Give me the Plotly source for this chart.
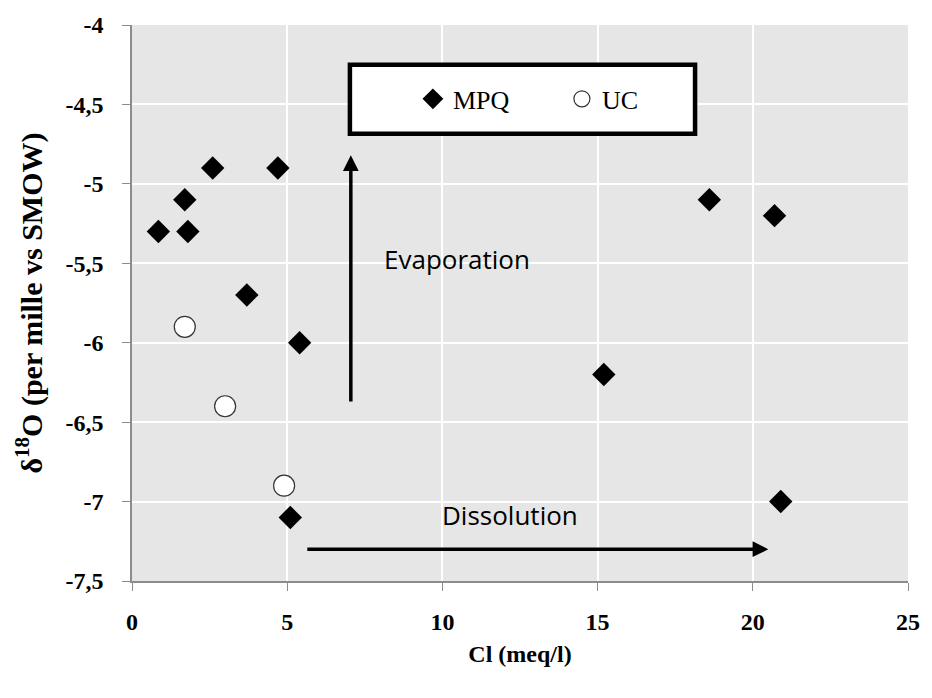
import plotly.graph_objects as go

# Data
mpq_cl = [0.85, 1.7, 1.8, 2.6, 4.7, 3.7, 5.4, 5.1, 15.2, 18.6, 20.7, 20.9]
mpq_d18o = [-5.3, -5.1, -5.3, -4.9, -4.9, -5.7, -6.0, -7.1, -6.2, -5.1, -5.2, -7.0]
uc_cl = [1.7, 3.0, 4.9]
uc_d18o = [-5.9, -6.4, -6.9]

x_ticks = [0, 5, 10, 15, 20, 25]
x_ticklabels = ["0", "5", "10", "15", "20", "25"]
y_ticks = [-4, -4.5, -5, -5.5, -6, -6.5, -7, -7.5]
y_ticklabels = ["-4", "-4,5", "-5", "-5,5", "-6", "-6,5", "-7", "-7,5"]

serif = "Times New Roman, Liberation Serif, serif"
sans = "Open Sans"

fig = go.Figure()
fig.add_trace(go.Scatter(
    x=mpq_cl, y=mpq_d18o, mode="markers", name="MPQ",
    marker=dict(symbol="diamond", size=18, color="black", line=dict(width=0)),
))
fig.add_trace(go.Scatter(
    x=uc_cl, y=uc_d18o, mode="markers", name="UC",
    marker=dict(symbol="circle", size=21, color="white", line=dict(width=1.2, color="#333333")),
))

# Legend box (white rectangle with thick black border)
fig.add_shape(type="rect", xref="x", yref="y", x0=7.02, x1=18.14, y0=-4.684, y1=-4.25,
              fillcolor="white", line=dict(color="black", width=4.5), layer="above")

# Arrows
fig.add_annotation(x=7.05, y=-4.82, ax=7.05, ay=-6.38, xref="x", yref="y", axref="x", ayref="y",
                   showarrow=True, arrowhead=2, arrowsize=0.9, arrowwidth=3.5, arrowcolor="black", text="")
fig.add_annotation(x=20.5, y=-7.3, ax=5.6, ay=-7.3, xref="x", yref="y", axref="x", ayref="y",
                   showarrow=True, arrowhead=2, arrowsize=0.9, arrowwidth=3.5, arrowcolor="black", text="")
fig.add_annotation(x=10.48, y=-5.474, xref="x", yref="y", text="Evaporation", showarrow=False,
                   font=dict(family=sans, size=26, color="black"))
fig.add_annotation(x=12.17, y=-7.087, xref="x", yref="y", text="Dissolution", showarrow=False,
                   font=dict(family=sans, size=26, color="black"))

fig.update_layout(
    width=932, height=698,
    margin=dict(l=132, r=14, t=23, b=117),
    paper_bgcolor="white",
    plot_bgcolor="#e6e6e6",
    font=dict(family=serif),
    showlegend=True,
    legend=dict(
        orientation="h", x=0.362, y=0.867, xanchor="left", yanchor="middle",
        bgcolor="rgba(0,0,0,0)", borderwidth=0,
        font=dict(family=serif, size=26, color="black"),
        entrywidth=104, itemwidth=30,
    ),
    xaxis=dict(
        range=[0, 25], tickvals=x_ticks, ticktext=x_ticklabels,
        showgrid=True, gridcolor="white", gridwidth=1.5,
        showline=True, linecolor="#8c8c8c", linewidth=1.5,
        ticks="outside", ticklen=8, tickcolor="#8c8c8c",
        ticklabelstandoff=10,
        zeroline=False,
        tickfont=dict(family=serif, size=24, color="black", weight="bold"),
        title=dict(text="<b>Cl (meq/l)</b>", font=dict(family=serif, size=24, color="black"), standoff=12),
    ),
    yaxis=dict(
        range=[-7.5, -4], tickvals=y_ticks, ticktext=y_ticklabels,
        showgrid=True, gridcolor="white", gridwidth=1.5,
        showline=True, linecolor="#8c8c8c", linewidth=1.5,
        ticks="outside", ticklen=8, tickcolor="#8c8c8c",
        ticklabelstandoff=14,
        zeroline=False,
        tickfont=dict(family=serif, size=24, color="black", weight="bold"),
        title=dict(text="<b>δ<sup>18</sup>O (per mille vs SMOW)</b>", font=dict(family=serif, size=30, color="black"), standoff=14),
    ),
)

fig.write_html("out.html")
